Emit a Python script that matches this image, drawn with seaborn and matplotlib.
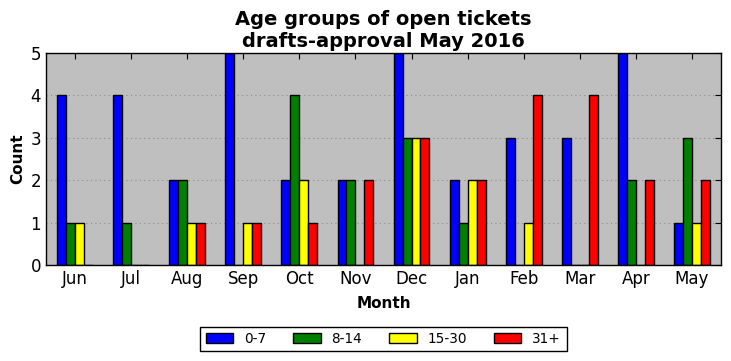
import pandas as pd
import matplotlib
matplotlib.use("Agg")
import matplotlib.pyplot as plt
import seaborn as sns

# Open ticket counts per month, split by age group (days)
months = ["Jun", "Jul", "Aug", "Sep", "Oct", "Nov", "Dec", "Jan", "Feb", "Mar", "Apr", "May"]
age_groups = ["0-7", "8-14", "15-30", "31+"]
count_0_7 = [4, 4, 2, 5, 2, 2, 5, 2, 3, 3, 5, 1]
count_8_14 = [1, 1, 2, 0, 4, 2, 3, 1, 0, 0, 2, 3]
count_15_30 = [1, 0, 1, 1, 2, 0, 3, 2, 1, 0, 0, 1]
count_31_plus = [0, 0, 1, 1, 1, 2, 3, 2, 4, 4, 2, 2]
colors = ["#0000ff", "#008000", "#ffff00", "#ff0000"]

rows = []
for grp, vals in zip(age_groups, [count_0_7, count_8_14, count_15_30, count_31_plus]):
    for m, v in zip(months, vals):
        rows.append({"month": m, "age": grp, "count": v})
df = pd.DataFrame(rows)

sns.set_style("white")
plt.rcParams["font.family"] = ["DejaVu Sans"]
plt.rcParams["text.color"] = "black"
plt.rcParams["axes.labelcolor"] = "black"
plt.rcParams["xtick.color"] = "black"
plt.rcParams["ytick.color"] = "black"

fig = plt.figure(figsize=(7.31, 3.61), dpi=100)
ax = fig.add_axes([0.0629, 0.2659, 0.9234, 0.5873])
ax.set_facecolor("#bfbfbf")

sns.barplot(data=df, x="month", y="count", hue="age", order=months,
            hue_order=age_groups, palette=colors, width=0.64, saturation=1,
            edgecolor="black", linewidth=1, ax=ax)

ax.set_xlim(-0.52, 11.52)
ax.set_ylim(0, 5)
ax.set_yticks(range(6))
ax.yaxis.grid(True, linestyle=(0, (1, 3)), color="#8c8c8c", linewidth=0.8)
ax.set_axisbelow(True)
ax.tick_params(direction="in", top=True, right=True, length=4, labelsize=12)
for s in ax.spines.values():
    s.set_color("black")
    s.set_linewidth(1)

ax.set_title("Age groups of open tickets\ndrafts-approval May 2016",
             fontsize=14, fontweight="bold", linespacing=1.2, pad=4)
ax.set_xlabel("Month", fontsize=11, fontweight="bold", labelpad=5.5)
ax.set_ylabel("Count", fontsize=11, fontweight="bold")

handles, labels = ax.get_legend_handles_labels()
ax.legend(handles, labels, ncol=4, loc="upper center", bbox_to_anchor=(0.5, -0.258),
          fancybox=False, edgecolor="black", framealpha=1, fontsize=9.8)

fig.savefig("out.png", dpi=100)
